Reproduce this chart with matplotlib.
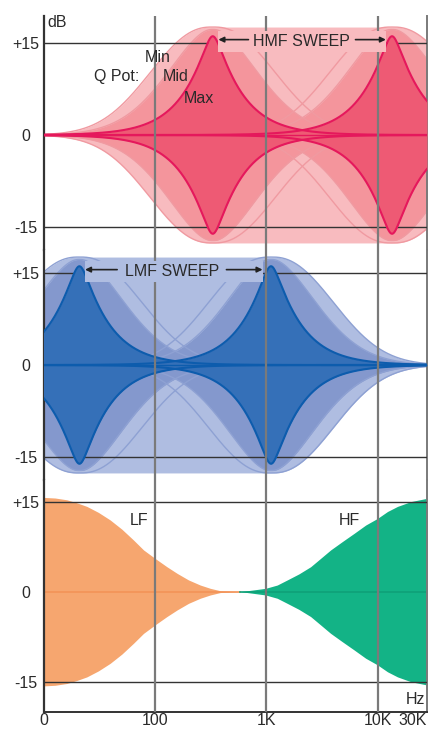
import numpy as np
import matplotlib
matplotlib.use("Agg")
import matplotlib.pyplot as plt
from matplotlib.patches import Rectangle

plt.rcParams['font.family'] = ['Liberation Sans Narrow', 'Liberation Sans', 'DejaVu Sans']

# ---------------- data ----------------
freq_ticks = [10, 100, 1000, 10000, 27600]
freq_tick_labels = ["0", "100", "1K", "10K", "30K"]
db_ticks = [-15, 0, 15]
db_tick_labels = ["-15", "0", "+15"]

hmf_centers = [330, 13400]          # Hz, sweep extremes
lmf_centers = [21, 1100]            # Hz, sweep extremes
q_names = ["Min", "Mid", "Max"]
q_gain = [17.6, 17.2, 16.1]         # dB at centre
q_width = [0.712, 0.557, 0.251]     # decades
q_power = [2.2, 1.73, 1.0]
q_round = [0.02, 0.02, 0.05]        # roundness of the top (decades)

lf_freq = [10, 12.7, 16.2, 19.9, 24.5, 31.1, 39.6, 50.5, 64.2, 79.0, 100,
           128, 158, 200, 255, 314, 386, 585]
lf_gain = [15.7, 15.6, 15.3, 14.8, 14.2, 13.2, 11.95, 10.4, 8.6, 6.95, 5.55,
           4.15, 3.05, 1.95, 1.1, 0.55, 0.15, 0.0]
hf_freq = [585, 981, 1250, 1538, 1955, 2493, 3067, 3770, 4806, 6110, 7785,
           9920, 12200, 15000, 19760, 27600]
hf_gain = [0.0, 0.55, 1.1, 1.95, 2.95, 4.15, 5.55, 6.95, 8.35, 9.7, 11.1,
           12.2, 13.35, 14.2, 15.0, 15.55]

pink = dict(l1='#F8BBBF', l3='#F4959C', dark='#EE5A74', edge='#E5185C', thin='#F09AA1')
blue = dict(l1='#AFBDE1', l3='#8498CD', dark='#3570B8', edge='#0D5CAD', thin='#8EA1D3')
orange = '#F6A66F'
orange_line = '#F39358'
green = '#13B386'
green_line = '#0FA078'
vgrid = '#7A7A7A'
hgrid = '#333333'
txt = '#2A2A2A'

FS = 11.5

fig = plt.figure(figsize=(4.29, 7.30), dpi=100)
L = 43.5 / 429
W = (427 - 43.5) / 429
H = 730.0
ax1 = fig.add_axes([L, (H - 250) / H, W, (250 - 16) / H])
ax2 = fig.add_axes([L, (H - 480) / H, W, 230 / H])
ax3 = fig.add_axes([L, (H - 712) / H, W, 232 / H])

f = np.logspace(1, np.log10(27600), 2000)


def bell(fc, qi):
    G, s, p, e = q_gain[qi], q_width[qi], q_power[qi], q_round[qi]
    d = np.log10(f / fc)
    de = np.sqrt(d ** 2 + e ** 2) - e
    return G * np.exp(-(de / s) ** p)


def envelope(centers, qi):
    lo = bell(centers[0], qi)
    hi = bell(centers[1], qi)
    return np.where(f < centers[0], lo, np.where(f > centers[1], hi, q_gain[qi]))


for ax, ylim in [(ax1, (-18.75, 19.4)), (ax2, (-18.75, 18.75)), (ax3, (-20.05, 18.6))]:
    ax.set_xscale('log')
    ax.set_xlim(10, 27600)
    ax.set_ylim(*ylim)
    for sp in ['top', 'bottom']:
        ax.spines[sp].set_visible(False)
    ax.spines['left'].set_color(hgrid)
    ax.spines['left'].set_linewidth(1.6)
    ax.spines['right'].set_color(vgrid)
    ax.spines['right'].set_linewidth(1.4)
    ax.set_yticks(db_ticks)
    ax.set_yticklabels(db_tick_labels)
    ax.tick_params(axis='y', length=0, pad=12.6, labelsize=FS, colors=txt)
    for lab in ax.get_yticklabels():
        lab.set_ha('center')
    ax.minorticks_off()
    ax.set_xticks([])
    for fv in freq_ticks[1:4]:
        ax.axvline(fv, color=vgrid, lw=1.6, zorder=5)
    for yv in (15, -15):
        ax.axhline(yv, color=hgrid, lw=1.0, zorder=3)
    ax.set_facecolor('white')


def eq_panel(ax, centers, col, label, label_f, arrows, box):
    env = envelope(centers, 0)
    ax.fill_between(f, -env, env, color=col['l1'], lw=0, zorder=1)
    # Mid Q fills
    for fc in centers:
        g = bell(fc, 1)
        ax.fill_between(f, -g, g, color=col['l3'], lw=0, zorder=2)
    # thin edges of Min and Mid curves
    for qi in (0, 1):
        for fc in centers:
            g = bell(fc, qi)
            ax.plot(f, g, color=col['thin'], lw=1.0, zorder=2.5)
            ax.plot(f, -g, color=col['thin'], lw=1.0, zorder=2.5)
    # Max Q
    for fc in centers:
        g = bell(fc, 2)
        ax.fill_between(f, -g, g, color=col['dark'], lw=0, zorder=4)
        ax.plot(f, g, color=col['edge'], lw=1.5, zorder=4.5)
        ax.plot(f, -g, color=col['edge'], lw=1.5, zorder=4.5)
    ax.axhline(0, color=col['edge'], lw=1.0, zorder=4.4)
    # label box hiding grid lines
    ax.add_patch(Rectangle((box[0], 13.5), box[1] - box[0], 3.5,
                           facecolor=col['l1'], edgecolor='none', zorder=6))
    ax.text(label_f, 15.25, label, ha='center', va='center', fontsize=FS,
            color=txt, zorder=7)
    for tail, head in arrows:
        ax.annotate('', xy=(head, 15.55), xytext=(tail, 15.55),
                    arrowprops=dict(arrowstyle='-|>', color='#222222', lw=1.2,
                                    mutation_scale=8, shrinkA=0, shrinkB=0),
                    zorder=7)


eq_panel(ax1, hmf_centers, pink, 'HMF SWEEP', 2070,
         [(690, 371), (6300, 11800)], (371, 11800))
eq_panel(ax2, lmf_centers, blue, 'LMF SWEEP', 143,
         [(45.8, 23.6), (438, 923)], (23.6, 923))

# Q pot labels
ax1.text(13.2, 18.4, 'dB', ha='center', va='center', fontsize=FS, color=txt)
ax1.text(105, 12.7, 'Min', ha='center', va='center', fontsize=FS, color=txt, zorder=7)
ax1.text(45.8, 9.6, 'Q Pot:', ha='center', va='center', fontsize=FS, color=txt, zorder=7)
ax1.text(152, 9.6, 'Mid', ha='center', va='center', fontsize=FS, color=txt, zorder=7)
ax1.text(250, 5.87, 'Max', ha='center', va='center', fontsize=FS, color=txt, zorder=7)

# shelving panel
lg = np.array(lf_gain)
hg = np.array(hf_gain)
ax3.fill_between(lf_freq, -lg, lg, color=orange, lw=0, zorder=2)
ax3.fill_between(hf_freq, -hg, hg, color=green, lw=0, zorder=2)
ax3.plot([lf_freq[0], lf_freq[-1]], [0, 0], color=orange_line, lw=1.2, zorder=2.5)
ax3.plot([hf_freq[0], hf_freq[-1]], [0, 0], color=green_line, lw=1.2, zorder=2.5)
ax3.text(71.5, 11.9, 'LF', ha='center', va='center', fontsize=FS, color=txt)
ax3.text(5530, 11.9, 'HF', ha='center', va='center', fontsize=FS, color=txt)
ax3.text(21700, -17.9, 'Hz', ha='center', va='center', fontsize=FS, color=txt)

ax3.spines['bottom'].set_visible(True)
ax3.spines['bottom'].set_color(hgrid)
ax3.spines['bottom'].set_linewidth(1.4)
ax3.set_xticks(freq_ticks)
ax3.set_xticklabels(freq_tick_labels)
ax3.tick_params(axis='x', length=0, pad=1.0, labelsize=FS, colors=txt)
xl = ax3.get_xticklabels()
xl[-1].set_ha('right')

fig.savefig('out.png', dpi=100)
